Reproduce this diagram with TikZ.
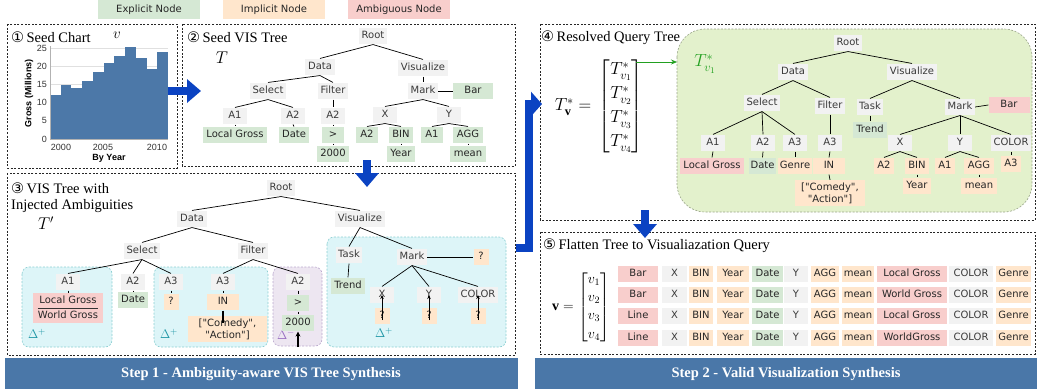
\RequirePackage{fix-cm}
\documentclass[tikz,border=0pt]{standalone}
\usepackage{fontspec}
\usepackage{amsmath}
\usepackage{graphicx}
\usetikzlibrary{arrows.meta,calc}
\setmainfont{Liberation Serif}
\newfontfamily\nodefont{DejaVu Sans}
\newfontfamily\chartfont{Liberation Sans}
\newfontfamily\symfont{DejaVu Sans}
\definecolor{exg}{HTML}{D5E8D4}
\definecolor{img}{HTML}{FFE6CC}
\definecolor{amg}{HTML}{F8CECC}
\definecolor{ndg}{HTML}{F2F2F2}
\definecolor{txt}{HTML}{3A3A3A}
\definecolor{cyreg}{HTML}{DDF5F8}
\definecolor{cybd}{HTML}{8CCFD2}
\definecolor{pureg}{HTML}{EDE6F1}
\definecolor{pubd}{HTML}{BBA9CE}
\definecolor{grreg}{HTML}{E3F1CC}
\definecolor{grbd}{HTML}{9AA58A}
\definecolor{tealc}{HTML}{1F97A6}
\definecolor{purc}{HTML}{9A70C2}
\definecolor{greenc}{HTML}{22A020}
\definecolor{bluea}{HTML}{0B43C2}
\definecolor{bannerc}{HTML}{4A77A8}
\definecolor{barc}{HTML}{4C78A8}
\newcommand{\ptitle}[2]{{\symfont #1}\,#2}
\tikzset{
  base/.style={font=\nodefont\fontsize{10}{12}\selectfont, inner ysep=3.6pt, text height=7.4pt, text depth=2.1pt},
  nd/.style={base, fill=ndg, text=txt, inner xsep=2.6pt, minimum width=24pt},
  ex/.style={base, fill=exg, text=black!85, inner xsep=3.5pt, minimum width=22pt},
  im/.style={base, fill=img, text=black!85, inner xsep=3.5pt, minimum width=15pt},
  am/.style={base, fill=amg, text=black!85, inner xsep=3.5pt, minimum width=22pt},
  im2/.style={fill=img, text=black!85, font=\nodefont\fontsize{10}{12}\selectfont, align=center, inner xsep=2pt, inner ysep=2.5pt},
  cell/.style={base, inner xsep=0pt},
  ed/.style={line width=0.7pt, black},
  panel/.style={draw=black!85, line width=0.6pt, dash pattern=on 2pt off 1.6pt},
  cyr/.style={fill=cyreg, draw=cybd, line width=0.6pt, dash pattern=on 2pt off 1.5pt, rounded corners=7pt},
  pur/.style={fill=pureg, draw=pubd, line width=0.6pt, dash pattern=on 2pt off 1.5pt, rounded corners=7pt},
  bigarrow/.style={draw=bluea, line width=8pt, -{Triangle[length=14pt,width=23pt]}},
  ttl/.style={font=\fontsize{14.5}{17}\selectfont, anchor=west, inner sep=0pt},
  legend/.style={font=\nodefont\fontsize{10}{12}\selectfont, minimum width=102pt, minimum height=19pt, inner sep=0pt, text=black!85},
  tick/.style={font=\chartfont\fontsize{9}{10}\selectfont, text=black!80, inner sep=1pt},
  bann/.style={fill=bannerc, draw=none},
  dlt/.style={font=\fontsize{12.5}{14}\selectfont, inner sep=0pt},
}
\begin{document}
\begin{tikzpicture}[x=1pt,y=-1pt]
\useasboundingbox (0,0) rectangle (1037,389);

% legend
\node[legend, fill=exg] (lg1) at (149,9.5) {Explicit Node};
\node[legend, fill=img] (lg2) at (274,9.5) {Implicit Node};
\node[legend, fill=amg] (lg3) at (399,9.5) {Ambiguous Node};

% panels
\draw[panel] (7,24) rectangle (177,168);
\draw[panel] (182,24) rectangle (515,166);
\draw[panel] (7,173) rectangle (515,355);
\draw[panel] (540,24) rectangle (1035,220);
\draw[panel] (540,232) rectangle (1035,354);

% banners
\fill[bann] (5,358) rectangle (518,389);
\fill[bann] (535,358) rectangle (1037,389);
\node[text=white, font=\bfseries\fontsize{14.5}{16}\selectfont] (b1) at (261,374) {Step 1 - Ambiguity-aware VIS Tree Synthesis};
\node[text=white, font=\bfseries\fontsize{14.5}{16}\selectfont] (b2) at (786,374) {Step 2 - Valid Visualization Synthesis};

% ---------- panel 1: seed chart
\node[ttl] (t1) at (11,37) {\ptitle{①}{Seed Chart}};
\node[font=\fontsize{15}{17}\selectfont] (v1l) at (117,35) {$v$};
\foreach \v in {0,5,10,15,20,25}{
  \draw[black!12, line width=0.6pt] (50,{139-\v*3.64}) -- (168,{139-\v*3.64});
  \node[tick, anchor=east] (yt\v) at (48,{139-\v*3.64}) {\v};
}
\foreach \i/\h in {0/12,1/14.7,2/13.9,3/16,4/18.5,5/21,6/22.9,7/25.2,8/22.2,9/19.1,10/24}{
  \fill[barc] ({50+\i*10.73},139) rectangle ({50+\i*10.73+10.73},{139-\h*3.64});
}
\draw[black!30, line width=0.7pt] (50,46) -- (50,139) -- (168,139);
\node[tick] (xt1) at (61,147) {2000};
\node[tick] (xt2) at (103,147) {2005};
\node[tick] (xt3) at (157,147) {2010};
\node[tick, font=\chartfont\bfseries\fontsize{9}{10}\selectfont, text=black] (xl) at (109,158) {By Year};
\node[tick, font=\chartfont\bfseries\fontsize{9}{10}\selectfont, text=black, rotate=90] (yl) at (29,93) {Gross (Millions)};

% arrows between panels
\coordinate (ar1a) at (168,91); \coordinate (ar1b) at (201,91);
\draw[bigarrow] (ar1a) -- (ar1b);
\coordinate (ar2a) at (367,160); \coordinate (ar2b) at (367,187);
\draw[bigarrow] (ar2a) -- (ar2b);
\coordinate (ar3a) at (516,248); \coordinate (ar3b) at (542,104);
\draw[draw=bluea, line width=8pt, miter limit=10, -{Triangle[length=11pt,width=24pt]}] (ar3a) -- (529,248) -- (529,104) -- (ar3b);
\coordinate (ar4a) at (645,210); \coordinate (ar4b) at (645,238);
\draw[bigarrow] (ar4a) -- (ar4b);

% ---------- panel 2: seed VIS tree
\node[ttl] (t2) at (187,37) {\ptitle{②}{Seed VIS Tree}};
\node[font=\fontsize{17}{19}\selectfont] (T2) at (222,58) {$T$};
\node[nd] (r2) at (373,36) {Root};
\node[nd] (d2) at (320,67) {Data};
\node[nd] (v2) at (423,68) {Visualize};
\node[nd] (s2) at (268,91) {Select};
\node[nd] (f2) at (333,91) {Filter};
\node[nd] (m2) at (423,91) {Mark};
\node[ex, minimum width=40pt] (bar2) at (473,91) {Bar};
\node[nd] (a12) at (235,116) {A1};
\node[nd] (a22) at (293,116) {A2};
\node[nd] (a2f2) at (333,116) {A2};
\node[nd] (x2) at (385,115) {X};
\node[nd] (y2) at (449,115) {Y};
\node[ex] (lg2n) at (235,135) {Local Gross};
\node[ex] (dt2) at (294,135) {Date};
\node[ex] (gt2) at (333,135) {>};
\node[ex] (n20002) at (333,154) {2000};
\node[ex] (a2x2) at (367,135) {A2};
\node[ex] (bin2) at (401,135) {BIN};
\node[ex] (a1y2) at (432,135) {A1};
\node[ex] (agg2) at (468,135) {AGG};
\node[ex] (yr2) at (401,154) {Year};
\node[ex] (mn2) at (468,154) {mean};
\foreach \a/\b in {r2/d2,r2/v2,d2/s2,d2/f2,v2/m2,s2/a12,s2/a22,f2/a2f2,a12/lg2n,a22/dt2,a2f2/gt2,gt2/n20002,m2/x2,m2/y2,x2/a2x2,x2/bin2,y2/a1y2,y2/agg2,bin2/yr2,agg2/mn2}
  \draw[ed] (\a.south) -- (\b.north);
\draw[ed] (m2.east) -- (bar2.west);

% ---------- panel 3: VIS tree with injected ambiguities
\node[ttl] (t3) at (11,188) {\ptitle{③}{VIS Tree with}};
\node[ttl] (t3b) at (11,206) {Injected Ambiguities};
\node[font=\fontsize{17}{19}\selectfont] (T3) at (46,223) {$T'$};
\draw[cyr] (22,267) rectangle (112,347);
\draw[cyr] (154,267) rectangle (268,347);
\draw[pur] (273,267) rectangle (322,346);
\draw[cyr] (327,237) rectangle (506,347);
\node[dlt, text=tealc] (dp1) at (37,334) {$\Delta^{+}$};
\node[dlt, text=tealc] (dp2) at (169,334) {$\Delta^{+}$};
\node[dlt, text=purc] (dm1) at (286,335) {$\Delta^{-}$};
\node[dlt, text=tealc] (dp3) at (384,333) {$\Delta^{+}$};

\node[nd] (r3) at (281,188) {Root};
\node[nd] (d3) at (192,219) {Data};
\node[nd] (v3) at (360,219) {Visualize};
\node[nd] (s3) at (142,251) {Select};
\node[nd] (f3) at (253,251) {Filter};
\node[nd] (t3n) at (349,255) {Task};
\node[nd] (m3) at (412,257) {Mark};
\node[im] (q3m) at (481,257) {?};
\node[nd] (a13) at (68,282) {A1};
\node[nd] (a23) at (133,282) {A2};
\node[nd] (a33) at (171,282) {A3};
\node[nd] (a3f3) at (223,282) {A3};
\node[nd] (a2f3) at (298,282) {A2};
\node[ex] (tr3) at (348,286) {Trend};
\node[nd] (x3) at (382,295) {X};
\node[nd] (y3) at (429,295) {Y};
\node[nd] (c3) at (478,295) {COLOR};
\node[fill=amg, minimum width=70pt, minimum height=30pt, inner sep=0pt] (lw3) at (68,308) {};
\node[base, text=black!85, inner sep=0pt] (lw3a) at (68,300.5) {Local Gross};
\node[base, text=black!85, inner sep=0pt] (lw3b) at (68,316) {World Gross};
\draw[black!80, line width=0.7pt] (lw3.west) ++(5,0.5) -- ++(60,0);
\node[ex] (dt3) at (133,300) {Date};
\node[im] (q3a) at (171,302) {?};
\node[im, minimum width=32pt] (in3) at (223,302) {IN};
\node[im2, minimum width=79pt] (cm3) at (227.5,329) {["Comedy",\\"Action"]};
\node[ex] (gt3) at (298,303) {>};
\node[ex] (n20003) at (298,323) {2000};
\node[im] (qx3) at (382,316) {?};
\node[im] (qy3) at (429,316) {?};
\node[im] (qc3) at (478,316) {?};
\foreach \a/\b in {r3/d3,r3/v3,d3/s3,d3/f3,s3/a13,s3/a23,s3/a33,f3/a3f3,f3/a2f3,v3/t3n,v3/m3,t3n/tr3,m3/x3,m3/y3,m3/c3,a13/lw3,a23/dt3,a33/q3a,a3f3/in3,a2f3/gt3,gt3/n20003}
  \draw[ed] (\a.south) -- (\b.north);
\draw[ed] (m3.east) -- (q3m.west);
\draw[ed, line width=1.2pt] (in3.south) -- ($(cm3.north)+(-4.5,7)$);
\foreach \q/\p in {qx3/x3,qy3/y3,qc3/c3}
  \draw[ed, -{Stealth[length=4pt,width=3.5pt]}] ($(\q.center)+(0,4)$) -- (\p.center);
\coordinate (ar0) at (298,347);
\draw[ed, line width=1.1pt, -{Stealth[length=5pt,width=5pt]}] (ar0) -- (n20003.south);

% ---------- panel 4: resolved query tree
\node[ttl] (t4) at (541,38) {\ptitle{④}{Resolved Query Tree}};
\draw[fill=grreg, draw=grbd, line width=0.6pt, dash pattern=on 2pt off 1.5pt, rounded corners=28pt] (677,29) rectangle (1032,212);
\node[font=\fontsize{17.5}{20}\selectfont, inner sep=0pt] (tv) at (573,107) {$T^{*}_{\mathbf{v}} =$};
\node[font=\fontsize{17.5}{20}\selectfont, inner sep=0pt] (tm) at (621,106) {$\renewcommand{\arraystretch}{1.2}\begin{bmatrix} T^{*}_{v_1}\\ T^{*}_{v_2}\\ T^{*}_{v_3}\\ T^{*}_{v_4}\end{bmatrix}$};
\coordinate (g1) at (636,62);
\coordinate (g2) at (677,62);
\draw[greenc, line width=0.8pt, -{Stealth[length=6pt,width=5pt]}] (g1) -- (g2);
\node[text=greenc, font=\fontsize{17.5}{20}\selectfont] (tv1) at (705,64) {$T^{*}_{v_1}$};

\node[nd] (r4) at (848,43) {Root};
\node[nd] (d4) at (793,72) {Data};
\node[nd] (v4) at (912,72) {Visualize};
\node[nd] (s4) at (762,103) {Select};
\node[nd] (f4) at (830,106) {Filter};
\node[nd] (t4n) at (870,107) {Task};
\node[nd] (m4) at (960,107) {Mark};
\node[am, minimum width=41pt] (bar4) at (1009,105) {Bar};
\node[nd] (a14) at (713,143) {A1};
\node[nd] (a24) at (763,143) {A2};
\node[nd] (a34) at (795,143) {A3};
\node[nd] (a3f4) at (830,143) {A3};
\node[ex] (tr4) at (870,130) {Trend};
\node[nd] (x4) at (900,143) {X};
\node[nd] (y4) at (960,143) {Y};
\node[nd] (c4) at (1011,143) {COLOR};
\node[am] (lg4) at (712,166) {Local Gross};
\node[ex, inner xsep=1.5pt] (dt4) at (762.5,166) {Date};
\node[im, inner xsep=1.5pt] (ge4) at (795,166) {Genre};
\node[im, minimum width=32pt] (in4) at (829,166) {IN};
\node[im2, minimum width=70pt] (cm4) at (830,193) {["Comedy",\\"Action"]};
\node[im] (a2x4) at (884,166) {A2};
\node[im] (bin4) at (917,166) {BIN};
\node[im] (a1y4) at (945,166) {A1};
\node[im] (agg4) at (979,166) {AGG};
\node[im] (a3c4) at (1011,164) {A3};
\node[im] (yr4) at (917,186) {Year};
\node[im] (mn4) at (979,186) {mean};
\foreach \a/\b in {r4/d4,r4/v4,d4/s4,d4/f4,v4/t4n,v4/m4,t4n/tr4,s4/a14,s4/a24,s4/a34,f4/a3f4,m4/x4,m4/y4,m4/c4,a14/lg4,a24/dt4,a34/ge4,a3f4/in4,in4/cm4,x4/a2x4,x4/bin4,y4/a1y4,y4/agg4,bin4/yr4,agg4/mn4,c4/a3c4}
  \draw[ed] (\a.south) -- (\b.north);
\draw[ed] (m4.east) -- (bar4.west);

% ---------- panel 5: flatten
\node[ttl] (t5) at (543,246) {\ptitle{⑤}{Flatten Tree to Visualiazation Query}};
\node[font=\fontsize{14}{16}\selectfont, inner sep=0pt] (veq) at (563,307) {$\mathbf{v} =$};
\node[font=\fontsize{14}{16}\selectfont, inner sep=0pt] (vm) at (594,307) {$\renewcommand{\arraystretch}{1.15}\begin{bmatrix} v_1\\ v_2\\ v_3\\ v_4\end{bmatrix}$};
\foreach \r/\y/\m/\g in {1/274/Bar/Local Gross,2/295/Bar/World Gross,3/316/Line/Local Gross,4/338/Line/WorldGross}{
  \node[cell, fill=amg, minimum width=40pt, text=black!85] (c\r a) at (638,\y) {\m};
  \node[cell, fill=ndg, minimum width=25pt, text=txt] (c\r b) at (674.5,\y) {X};
  \node[cell, fill=img, minimum width=24pt, text=black!85] (c\r c) at (701,\y) {BIN};
  \node[cell, fill=img, minimum width=32pt, text=black!85] (c\r d) at (733,\y) {Year};
  \node[cell, fill=exg, minimum width=31pt, text=black!85] (c\r e) at (767.5,\y) {Date};
  \node[cell, fill=ndg, minimum width=24pt, text=txt] (c\r f) at (796,\y) {Y};
  \node[cell, fill=img, minimum width=28pt, text=black!85] (c\r g) at (825,\y) {AGG};
  \node[cell, fill=img, minimum width=32pt, text=black!85] (c\r h) at (858,\y) {mean};
  \node[cell, fill=amg, minimum width=70pt, text=black!85] (c\r i) at (912,\y) {\g};
  \node[cell, fill=ndg, minimum width=44pt, text=txt] (c\r j) at (971,\y) {COLOR};
  \node[cell, fill=img, minimum width=35pt, text=black!85] (c\r k) at (1013.5,\y) {Genre};
}
\end{tikzpicture}
\end{document}
